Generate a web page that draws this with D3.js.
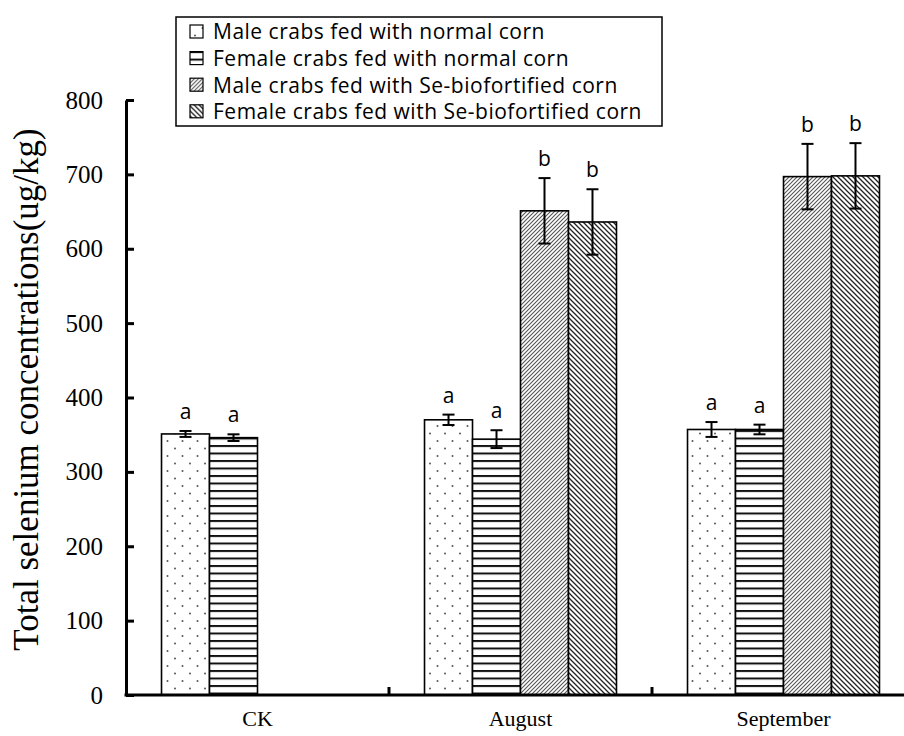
<!DOCTYPE html>
<html>
<head>
<meta charset="utf-8">
<script src="https://cdn.jsdelivr.net/npm/d3@7"></script>
<style>
  body { margin: 0; background: #fff; }
  .tickText { font-family: "Liberation Serif", "Times New Roman", serif; font-size: 25px; fill: #000; }
  .catText { font-family: "Liberation Serif", "Times New Roman", serif; font-size: 22px; fill: #000; }
  .axisTitle { font-family: "Liberation Serif", "Times New Roman", serif; font-size: 35px; fill: #000; }
  .legendText { font-family: "Open Sans", sans-serif; font-size: 21px; letter-spacing: 0.5px; fill: #000; }
  .letterText { font-family: "Open Sans", sans-serif; font-size: 21px; fill: #000; }
</style>
</head>
<body>
<div class="chart"></div>
<script>
// categories and series
var categories = ["CK", "August", "September"];
var seriesKeys = ["maleNormal", "femaleNormal", "maleSe", "femaleSe"];
var seriesNames = [
  "Male crabs fed with normal corn",
  "Female crabs fed with normal corn",
  "Male crabs fed with  Se-biofortified corn",
  "Female crabs fed with Se-biofortified corn"
];

// mean values (ug/kg), null = not measured
var maleNormal   = [351, 370, 357];
var femaleNormal = [346, 344, 357];
var maleSe       = [null, 651, 697];
var femaleSe     = [null, 636, 698];

// error bars (+/-)
var maleNormalErr   = [4, 7, 10];
var femaleNormalErr = [4.5, 12, 6.5];
var maleSeErr       = [null, 44, 44];
var femaleSeErr     = [null, 44, 44];

// significance letters
var maleNormalSig   = ["a", "a", "a"];
var femaleNormalSig = ["a", "a", "a"];
var maleSeSig       = [null, "b", "b"];
var femaleSeSig     = [null, "b", "b"];

var yTicks = [0, 100, 200, 300, 400, 500, 600, 700, 800];

var values = { maleNormal: maleNormal, femaleNormal: femaleNormal, maleSe: maleSe, femaleSe: femaleSe };
var errs = { maleNormal: maleNormalErr, femaleNormal: femaleNormalErr, maleSe: maleSeErr, femaleSe: femaleSeErr };
var sigs = { maleNormal: maleNormalSig, femaleNormal: femaleNormalSig, maleSe: maleSeSig, femaleSe: femaleSeSig };

var svgWidth = 904, svgHeight = 736;
var margin = { top: 100, bottom: 41, left: 126, right: -11 };

var svg = d3.select(".chart").append("svg")
  .attr("width", svgWidth)
  .attr("height", svgHeight);

// fill patterns
var defs = svg.append("defs");

var pDots = defs.append("pattern").attr("id", "p-maleNormal")
  .attr("patternUnits", "userSpaceOnUse").attr("width", 15).attr("height", 15);
pDots.append("rect").attr("width", 15).attr("height", 15).attr("fill", "#fff");
pDots.append("circle").attr("cx", 4).attr("cy", 3.5).attr("r", 1).attr("fill", "#555");
pDots.append("circle").attr("cx", 11.5).attr("cy", 11).attr("r", 1).attr("fill", "#555");

var pHor = defs.append("pattern").attr("id", "p-femaleNormal")
  .attr("patternUnits", "userSpaceOnUse").attr("width", 10).attr("height", 7.5);
pHor.append("rect").attr("width", 10).attr("height", 7.5).attr("fill", "#fff");
pHor.append("rect").attr("y", 0).attr("width", 10).attr("height", 2).attr("fill", "#111");

var pFwd = defs.append("pattern").attr("id", "p-maleSe")
  .attr("patternUnits", "userSpaceOnUse").attr("width", 4).attr("height", 4);
pFwd.append("rect").attr("width", 4).attr("height", 4).attr("fill", "#fff");
pFwd.append("path").attr("d", "M-1,1 l2,-2 M0,4 l4,-4 M3,5 l2,-2")
  .attr("stroke", "#555").attr("stroke-width", 1.1);

var pBack = defs.append("pattern").attr("id", "p-femaleSe")
  .attr("patternUnits", "userSpaceOnUse").attr("width", 5).attr("height", 5);
pBack.append("rect").attr("width", 5).attr("height", 5).attr("fill", "#fff");
pBack.append("path").attr("d", "M-1,4 l2,2 M0,0 l5,5 M4,-1 l2,2")
  .attr("stroke", "#222").attr("stroke-width", 1.3);

var chartWidth = svgWidth - margin.left - margin.right;
var chartHeight = svgHeight - margin.top - margin.bottom;
var chartGroup = svg.append("g")
  .attr("transform", `translate(${margin.left}, ${margin.top})`);

// scales
var x = d3.scaleBand().domain(categories).range([0, chartWidth]);
var xSub = d3.scaleBand().domain(seriesKeys).range([0, x.bandwidth()]).paddingOuter(0.74);
var y = d3.scaleLinear().domain([0, 800]).range([chartHeight, 0]);

// flatten rows
var rows = [];
categories.forEach(function(c, i) {
  seriesKeys.forEach(function(k) {
    if (values[k][i] != null) {
      rows.push({ cat: c, key: k, value: values[k][i], err: errs[k][i], sig: sigs[k][i] });
    }
  });
});

// bars
chartGroup.selectAll(".bar")
  .data(rows)
  .enter()
  .append("rect")
  .attr("class", "bar")
  .attr("x", d => x(d.cat) + xSub(d.key))
  .attr("y", d => y(d.value))
  .attr("width", xSub.bandwidth())
  .attr("height", d => y(0) - y(d.value))
  .attr("fill", d => `url(#p-${d.key})`)
  .attr("stroke", "#000")
  .attr("stroke-width", 1.6);

// error bars
var errG = chartGroup.selectAll(".err")
  .data(rows)
  .enter()
  .append("g")
  .attr("class", "err")
  .attr("transform", d => `translate(${x(d.cat) + xSub(d.key) + xSub.bandwidth() / 2}, 0)`)
  .attr("stroke", "#000")
  .attr("stroke-width", 2);
errG.append("line")
  .attr("y1", d => y(d.value - d.err)).attr("y2", d => y(d.value + d.err));
errG.append("line")
  .attr("x1", -6).attr("x2", 6)
  .attr("y1", d => y(d.value + d.err)).attr("y2", d => y(d.value + d.err));
errG.append("line")
  .attr("x1", -6).attr("x2", 6)
  .attr("y1", d => y(d.value - d.err)).attr("y2", d => y(d.value - d.err));

// significance letters
chartGroup.selectAll(".letterText")
  .data(rows)
  .enter()
  .append("text")
  .attr("class", "letterText")
  .attr("x", d => x(d.cat) + xSub(d.key) + xSub.bandwidth() / 2)
  .attr("y", d => y(d.value + d.err) - 12)
  .attr("text-anchor", "middle")
  .text(d => d.sig);

// y axis
var yAxis = d3.axisLeft(y).tickValues(yTicks).tickSizeInner(-8).tickSizeOuter(0).tickPadding(23);
var yG = chartGroup.append("g").call(yAxis);
yG.select(".domain").attr("stroke-width", 3);
yG.selectAll(".tick line").attr("stroke-width", 3);
yG.selectAll(".tick text").attr("class", "tickText").attr("font-family", null).attr("font-size", null);

// x axis: labels at band centers, ticks at band borders
var xAxis = d3.axisBottom(x).tickSize(0).tickPadding(15);
var xG = chartGroup.append("g")
  .attr("transform", `translate(0, ${chartHeight})`)
  .call(xAxis);
xG.select(".domain").remove();
xG.selectAll(".tick text").attr("class", "catText").attr("font-family", null).attr("font-size", null);

chartGroup.append("line")
  .attr("x1", -1.5).attr("x2", chartWidth)
  .attr("y1", chartHeight).attr("y2", chartHeight)
  .attr("stroke", "#000").attr("stroke-width", 3);

chartGroup.selectAll(".catBorder")
  .data(categories.slice(1))
  .enter()
  .append("line")
  .attr("class", "catBorder")
  .attr("x1", d => x(d)).attr("x2", d => x(d))
  .attr("y1", chartHeight).attr("y2", chartHeight - 8)
  .attr("stroke", "#000").attr("stroke-width", 3);

// y axis title
svg.append("text")
  .attr("class", "axisTitle")
  .attr("transform", `translate(38, ${margin.top + chartHeight / 2 - 8}) rotate(-90)`)
  .attr("text-anchor", "middle")
  .text("Total selenium concentrations(ug/kg)");

// legend
var legend = svg.append("g").attr("transform", "translate(176, 17)");
legend.append("rect")
  .attr("width", 486).attr("height", 109)
  .attr("fill", "#fff").attr("stroke", "#000").attr("stroke-width", 1.5);

var legendItem = legend.selectAll(".legendItem")
  .data(seriesKeys)
  .enter()
  .append("g")
  .attr("class", "legendItem")
  .attr("transform", (d, i) => `translate(0, ${15 + i * 26.6})`);
legendItem.append("rect")
  .attr("x", 14).attr("y", -7)
  .attr("width", 13).attr("height", 13)
  .attr("fill", d => `url(#p-${d})`)
  .attr("stroke", "#000").attr("stroke-width", 1.2);
legendItem.append("text")
  .attr("class", "legendText")
  .attr("x", 37).attr("y", 0)
  .attr("dy", "0.35em")
  .text((d, i) => seriesNames[i]);
</script>
</body>
</html>
